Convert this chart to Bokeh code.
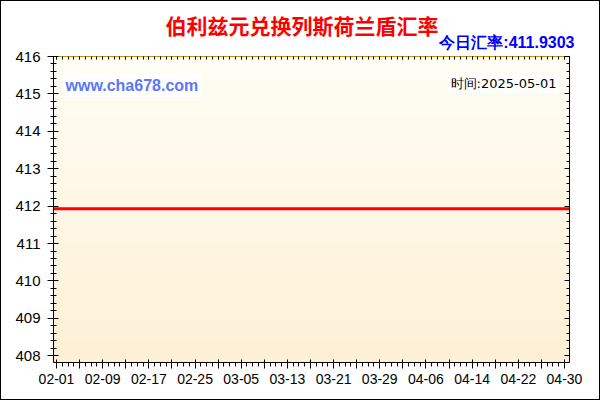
import numpy as np
import pandas as pd
from bokeh.plotting import figure
from bokeh.models import (Range1d, FixedTicker, LinearAxis, DatetimeAxis, Label,
                          ColumnDataSource, Title)
from bokeh.embed import file_html
from bokeh.resources import INLINE

# ---------------- data ----------------
title_text = "伯利兹元兑换列斯荷兰盾汇率"
today_rate_text = "今日汇率:411.9303"
site_text = "www.cha678.com"
time_text = "时间:2025-05-01"

dates = ["2025-01-31", "2025-02-01", "2025-02-09", "2025-02-17", "2025-02-25",
         "2025-03-05", "2025-03-13", "2025-03-21", "2025-03-29", "2025-04-06",
         "2025-04-14", "2025-04-22", "2025-04-30", "2025-05-01"]
rates = [411.9303, 411.9303, 411.9303, 411.9303, 411.9303, 411.9303, 411.9303,
         411.9303, 411.9303, 411.9303, 411.9303, 411.9303, 411.9303, 411.9303]

x_tick_dates = ["2025-02-01", "2025-02-09", "2025-02-17", "2025-02-25", "2025-03-05",
                "2025-03-13", "2025-03-21", "2025-03-29", "2025-04-06", "2025-04-14",
                "2025-04-22", "2025-04-30"]
x_tick_labels = ["02-01", "02-09", "02-17", "02-25", "03-05", "03-13", "03-21",
                 "03-29", "04-06", "04-14", "04-22", "04-30"]
y_ticks = [408, 409, 410, 411, 412, 413, 414, 415, 416]

# ---------------- helpers ----------------
def ms(d):
    return float(pd.Timestamp(d).value // 10**6)

DAY = 86400000.0
first = ms(x_tick_dates[0])
last = ms(x_tick_dates[-1])
major_x = [first + i * 4 * DAY for i in range(int((last - first) / DAY) // 4 + 1)]
minor_x = [first + i * DAY for i in range(int((last - first) / DAY) + 1)]
label_map = {ms(d): l for d, l in zip(x_tick_dates, x_tick_labels)}
overrides = {t: label_map.get(t, "") for t in major_x}

minor_y = [round(408 + 0.2 * i, 1) for i in range(41)]

W, H = 600, 400
FL, FR, FT, FB = 52, 568, 55, 361   # frame edges in page pixels
x_start = first - 0.52 * DAY
x_end = last + 0.87 * DAY
y_start, y_end = 407.82, 416.0

p = figure(width=W, height=H, output_backend="svg", toolbar_location=None,
           x_axis_type="datetime",
           x_range=Range1d(x_start, x_end), y_range=Range1d(y_start, y_end),
           min_border_left=FL, min_border_right=W - FR, min_border_top=FT,
           min_border_bottom=H - FB, margin=0,
           styles={"border": "1px solid black", "box-sizing": "border-box"})
p.outline_line_color = None
p.background_fill_color = "#FFFCEC"
p.border_fill_color = "white"

# gradient background (decoration)
nrows = 200
t = np.linspace(0, 1, nrows)[:, None]  # 0 bottom -> 1 top
top_c = np.array([255, 254, 245])
bot_c = np.array([254, 240, 214])
cols = (bot_c * (1 - t) + top_c * t).astype(np.uint32)
img = np.empty((nrows, 2), dtype=np.uint32)
view = img.view(dtype=np.uint8).reshape((nrows, 2, 4))
view[:, :, 0] = cols[:, 0:1]
view[:, :, 1] = cols[:, 1:2]
view[:, :, 2] = cols[:, 2:3]
view[:, :, 3] = 255
p.image_rgba(image=[img], x=x_start, y=y_start, dw=x_end - x_start, dh=y_end - y_start)

# axes
grid_col = "#C0901A"
xa = p.xaxis[0]
xa.ticker = FixedTicker(ticks=major_x, minor_ticks=minor_x)
xa.major_label_overrides = overrides
xa.major_label_text_font = "Liberation Sans"
xa.major_label_text_font_size = "14px"
xa.major_label_text_color = "black"
xa.major_label_standoff = 5
xa.major_tick_out = 6
xa.major_tick_in = 3
xa.minor_tick_out = 4
xa.minor_tick_in = 0
xa.axis_line_color = "black"

ya = p.yaxis[0]
ya.ticker = FixedTicker(ticks=y_ticks, minor_ticks=minor_y)
ya.major_label_text_font = "Liberation Sans"
ya.major_label_text_font_size = "15px"
ya.major_label_text_color = "black"
ya.major_label_standoff = 7
ya.major_tick_out = 6
ya.major_tick_in = 5
ya.minor_tick_out = 3
ya.minor_tick_in = 3
ya.axis_line_color = "black"

ra = LinearAxis(ticker=FixedTicker(ticks=y_ticks, minor_ticks=minor_y))
ra.major_label_overrides = {v: "" for v in y_ticks}
ra.major_tick_out = 0
ra.major_tick_in = 5
ra.minor_tick_out = 0
ra.minor_tick_in = 3
ra.axis_line_color = "black"
p.add_layout(ra, "right")

ta = DatetimeAxis(ticker=FixedTicker(ticks=major_x, minor_ticks=minor_x))
ta.major_label_overrides = {v: "" for v in major_x}
ta.major_tick_out = 0
ta.major_tick_in = 3
ta.minor_tick_out = 0
ta.minor_tick_in = 3
ta.major_label_standoff = 0
ta.axis_line_color = grid_col
p.add_layout(ta, "above")

p.xgrid.grid_line_color = None
p.ygrid.grid_line_color = grid_col
p.ygrid.grid_line_width = 1

# data line
src = ColumnDataSource(dict(date=pd.to_datetime(dates), rate=rates))
p.line("date", "rate", source=src, line_color="#FF0000", line_width=3)

# titles (outside the frame)
p.add_layout(Title(text=today_rate_text, align="right", offset=-5, standoff=11,
                   text_font="Liberation Sans", text_font_size="16px",
                   text_font_style="bold", text_color="#0000FF"), "above")
p.title.text = title_text
p.title.align = "left"
p.title.offset = 164 - FL
p.title.standoff = -27
p.title.text_font = "Noto Sans CJK SC"
p.title.text_font_size = "21px"
p.title.text_font_style = "bold"
p.title.text_color = "#FF0000"

# texts inside the frame (screen units are relative to the frame's bottom-left corner)
def sx(x):
    return x - FL

def sy(y):
    return FB - y

p.add_layout(Label(x=sx(61), y=sy(84), x_units="screen", y_units="screen", text=site_text,
                   text_align="left", text_baseline="middle",
                   text_font="Liberation Sans", text_font_size="16px",
                   text_font_style="bold", text_color="#5A78F5",
                   background_fill_color="white", padding=3))
p.add_layout(Label(x=sx(557), y=sy(82), x_units="screen", y_units="screen", text=time_text,
                   text_align="right", text_baseline="middle",
                   text_font="DejaVu Sans", text_font_size="13px",
                   text_color="black", background_fill_color="white", padding=2))

open("out.html", "w").write(file_html(p, INLINE))
